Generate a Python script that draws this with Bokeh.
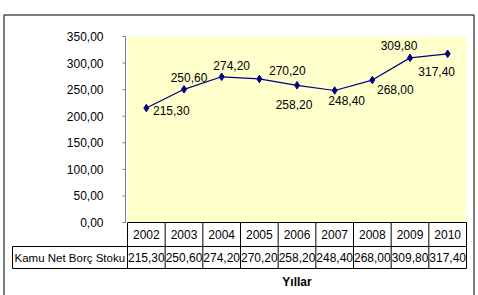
from bokeh.plotting import figure
from bokeh.models import ColumnDataSource, LabelSet, Range1d
from bokeh.core.properties import value
from bokeh.embed import file_html
from bokeh.resources import INLINE

# ---- data ----
years = ["2002", "2003", "2004", "2005", "2006", "2007", "2008", "2009", "2010"]
values = [215.30, 250.60, 274.20, 270.20, 258.20, 248.40, 268.00, 309.80, 317.40]
series_name = "Kamu Net Borç Stoku"
x_title = "Yıllar"
y_ticks = [0, 50, 100, 150, 200, 250, 300, 350]

# data-label placement offsets (px) - style only
lab_dx = [25, 5, 10, 28, -3, 12, 23, -11, -11]
lab_dy = [-2, 12, 11, 8, -19, -10, -9, 12, -18]

FONT = value("Liberation Sans")
FS = value("12px")
NAVY = "#000080"


def tr(v):
    return f"{v:.2f}".replace(".", ",")


# ---- layout (pixels) ----
W, H = 478, 295
PL, PR, PT, PB = 127, 466, 36, 222      # plot area
ROW1, ROW2 = 246, 268                   # table row bottoms
CELL_L = 12                             # left edge of the series-name cell
n = len(years)
CW = (PR - PL) / n
K = (PB - PT) / y_ticks[-1]


def dx(px):
    return (px - PL) / CW - 0.5


def dy(py):
    return (PB - py) / K


xs = list(range(n))
src = ColumnDataSource(dict(x=xs, y=values, txt=[tr(v) for v in values],
                            ox=lab_dx, oy=lab_dy))

p = figure(width=W, height=H, x_range=Range1d(dx(0), dx(W)),
           y_range=Range1d(dy(H), dy(0)), x_axis_type=None, y_axis_type=None,
           min_border=0, output_backend="svg", toolbar_location=None)
p.background_fill_color = "white"
p.border_fill_color = "white"
p.outline_line_color = None

# plot area background
p.quad(left=dx(PL), right=dx(PR), bottom=0, top=y_ticks[-1],
       fill_color="#FFFFCC", line_color=None)

# y axis (value scale)
ax_x = dx(PL - 2)
p.segment(x0=ax_x, y0=0, x1=ax_x, y1=y_ticks[-1], line_color="#808080", line_width=1)
p.segment(x0=[ax_x] * len(y_ticks), y0=y_ticks, x1=[dx(PL - 5)] * len(y_ticks),
          y1=y_ticks, line_color="#808080", line_width=1)
p.text(x=[dx(PL - 24)] * len(y_ticks), y=y_ticks, text=[tr(t) for t in y_ticks],
       text_align="right", text_baseline="middle", text_font=FONT,
       text_font_size=FS, text_color="black")

# data table
r1, r2 = dy(ROW1), dy(ROW2)
bounds = [i - 0.5 for i in range(n + 1)]
p.segment(x0=bounds, y0=[0] * len(bounds), x1=bounds, y1=[r2] * len(bounds),
          line_color="black", line_width=1)
p.segment(x0=[dx(PL), dx(CELL_L), dx(CELL_L), dx(CELL_L)],
          y0=[0, r1, r2, r1],
          x1=[dx(PR), dx(PR), dx(PR), dx(CELL_L)],
          y1=[0, r1, r2, r2], line_color="black", line_width=1)
p.text(x=xs, y=[(0 + r1) / 2] * n, text=years, text_align="center",
       text_baseline="middle", text_font=FONT, text_font_size=FS, text_color="black")
p.text(x=xs, y=[(r1 + r2) / 2] * n, text=[tr(v) for v in values], text_align="center",
       text_baseline="middle", text_font=FONT, text_font_size=FS, text_color="black")
p.text(x=[dx(CELL_L + 2)], y=[(r1 + r2) / 2], text=[series_name], text_align="left",
       text_baseline="middle", text_font=FONT, text_font_size=value("11.5px"),
       text_color="black")
p.text(x=[(n - 1) / 2], y=[dy(281)], text=[x_title], text_align="center",
       text_baseline="middle", text_font=FONT, text_font_size=FS,
       text_font_style="bold", text_color="black")

# outer chart frame
p.quad(left=dx(3.5), right=dx(473.5), top=dy(14.5), bottom=dy(H + 10),
       fill_color=None, line_color="#505050", line_width=1.5)

# series
p.line("x", "y", source=src, line_color=NAVY, line_width=1.2)
p.scatter("x", "y", source=src, marker="diamond", size=7.5, color=NAVY)
p.add_layout(LabelSet(x="x", y="y", text="txt", source=src, x_offset="ox",
                      y_offset="oy", text_align="center", text_baseline="middle",
                      text_font=FONT, text_font_size=FS, text_color="black"))

open("out.html", "w").write(file_html(p, INLINE))
